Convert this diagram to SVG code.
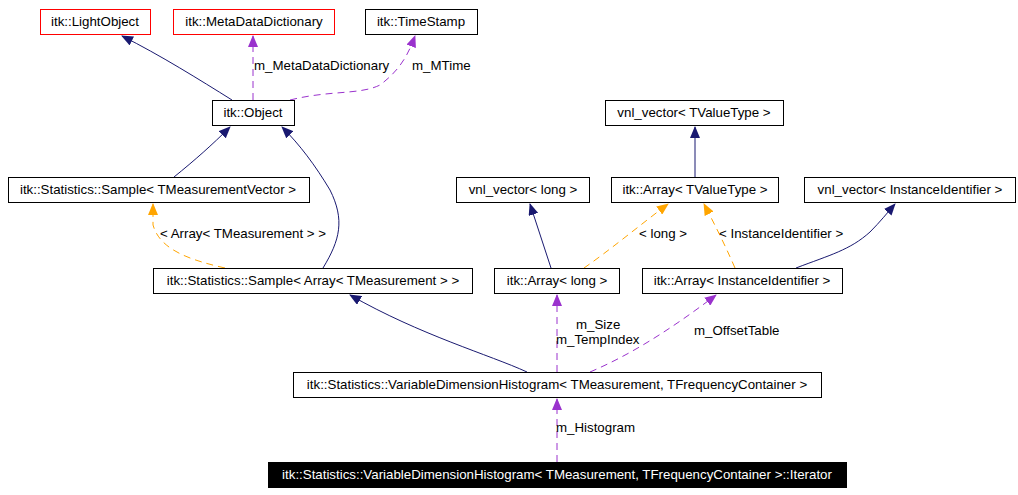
<svg xmlns="http://www.w3.org/2000/svg" width="1018" height="495" viewBox="0 0 1018 495">
<style>
.n rect{fill:#fff;stroke:#000;stroke-width:1}
.r rect{stroke:#f00}
text{font-family:"Liberation Sans",Arial,sans-serif;font-size:13.3px;fill:#000}
.n text{text-anchor:middle}
.e path{fill:none;stroke-width:1}
.b{stroke:#191970}
.p{stroke:#9a32cd;stroke-dasharray:7,5}
.o{stroke:#ffa500;stroke-dasharray:7,5}
</style>
<defs>
<marker id="mb" markerWidth="12" markerHeight="10" refX="11" refY="5" orient="auto" markerUnits="userSpaceOnUse"><path d="M0,0L12,5L0,10z" fill="#191970"/></marker>
<marker id="mp" markerWidth="12" markerHeight="10" refX="11" refY="5" orient="auto" markerUnits="userSpaceOnUse"><path d="M0,0L12,5L0,10z" fill="#9a32cd"/></marker>
<marker id="mo" markerWidth="12" markerHeight="10" refX="11" refY="5" orient="auto" markerUnits="userSpaceOnUse"><path d="M0,0L12,5L0,10z" fill="#ffa500"/></marker>
</defs>
<g class="e" id="edges">
<path class="b" d="M232,100 C200,80 160,55 122,36" marker-end="url(#mb)"/>
<path class="p" d="M253,100 L253,36" marker-end="url(#mp)"/>
<path class="p" d="M290,100 C330,90 360,95 380,85 C400,70 408,55 415,36" marker-end="url(#mp)"/>
<text x="254" y="70">m_MetaDataDictionary</text>
<text x="412" y="70">m_MTime</text>
<path class="b" d="M174,177 C195,160 212,145 230,127" marker-end="url(#mb)"/>
<path class="b" d="M323,268 C340,240 345,220 330,190 C315,165 300,145 282,127" marker-end="url(#mb)"/>
<path class="o" d="M225,268 C190,260 160,250 153,225 L153,204" marker-end="url(#mo)"/>
<text x="160" y="238">&lt; Array&lt; TMeasurement &gt; &gt;</text>
<path class="b" d="M695,177 L695,127" marker-end="url(#mb)"/>
<path class="b" d="M551,268 L530,204" marker-end="url(#mb)"/>
<path class="o" d="M584,268 C610,250 640,225 668,204" marker-end="url(#mo)"/>
<text x="639" y="238">&lt; long &gt;</text>
<path class="o" d="M735,268 C725,245 715,225 704,204" marker-end="url(#mo)"/>
<path class="b" d="M796,268 C830,255 850,250 870,232 C880,222 888,212 895,204" marker-end="url(#mb)"/>
<text x="719" y="238">&lt; InstanceIdentifier &gt;</text>
<path class="b" d="M527,372 C490,355 420,335 350,295" marker-end="url(#mb)"/>
<path class="p" d="M557,372 L557,295" marker-end="url(#mp)"/>
<text x="576" y="329">m_Size</text>
<text x="556" y="344">m_TempIndex</text>
<path class="p" d="M590,372 C630,355 670,330 716,295" marker-end="url(#mp)"/>
<text x="694" y="335">m_OffsetTable</text>
<path class="p" d="M557,462 L557,399" marker-end="url(#mp)"/>
<text x="556" y="432">m_Histogram</text>
</g>
<g class="n r" id="n1"><rect x="40.5" y="9.5" width="110" height="25"/><text x="95" y="26">itk::LightObject</text></g>
<g class="n r" id="n2"><rect x="173.5" y="9.5" width="161" height="25"/><text x="254" y="26">itk::MetaDataDictionary</text></g>
<g class="n" id="n3"><rect x="365.5" y="9.5" width="112" height="25"/><text x="421" y="26">itk::TimeStamp</text></g>
<g class="n" id="n4"><rect x="212.5" y="100.5" width="82" height="25"/><text x="253" y="117">itk::Object</text></g>
<g class="n" id="n5"><rect x="8.5" y="177.5" width="301" height="25"/><text x="158" y="194">itk::Statistics::Sample&lt; TMeasurementVector &gt;</text></g>
<g class="n" id="n6"><rect x="153.5" y="268.5" width="319" height="25"/><text x="313" y="285">itk::Statistics::Sample&lt; Array&lt; TMeasurement &gt; &gt;</text></g>
<g class="n" id="n7"><rect x="605.5" y="100.5" width="178" height="25"/><text x="694" y="117">vnl_vector&lt; TValueType &gt;</text></g>
<g class="n" id="n8"><rect x="456.5" y="177.5" width="133" height="25"/><text x="523" y="194">vnl_vector&lt; long &gt;</text></g>
<g class="n" id="n9"><rect x="611.5" y="177.5" width="167" height="25"/><text x="695" y="194">itk::Array&lt; TValueType &gt;</text></g>
<g class="n" id="n10"><rect x="804.5" y="177.5" width="211" height="25"/><text x="910" y="194">vnl_vector&lt; InstanceIdentifier &gt;</text></g>
<g class="n" id="n11"><rect x="494.5" y="268.5" width="125" height="25"/><text x="557" y="285">itk::Array&lt; long &gt;</text></g>
<g class="n" id="n12"><rect x="642.5" y="268.5" width="200" height="25"/><text x="742" y="285">itk::Array&lt; InstanceIdentifier &gt;</text></g>
<g class="n" id="n13"><rect x="293.5" y="372.5" width="528" height="25"/><text x="557" y="389">itk::Statistics::VariableDimensionHistogram&lt; TMeasurement, TFrequencyContainer &gt;</text></g>
<g class="n" id="n14"><rect x="268.5" y="462.5" width="578" height="25" style="fill:#000"/><text x="557" y="479" style="fill:#fff">itk::Statistics::VariableDimensionHistogram&lt; TMeasurement, TFrequencyContainer &gt;::Iterator</text></g>
</svg>
